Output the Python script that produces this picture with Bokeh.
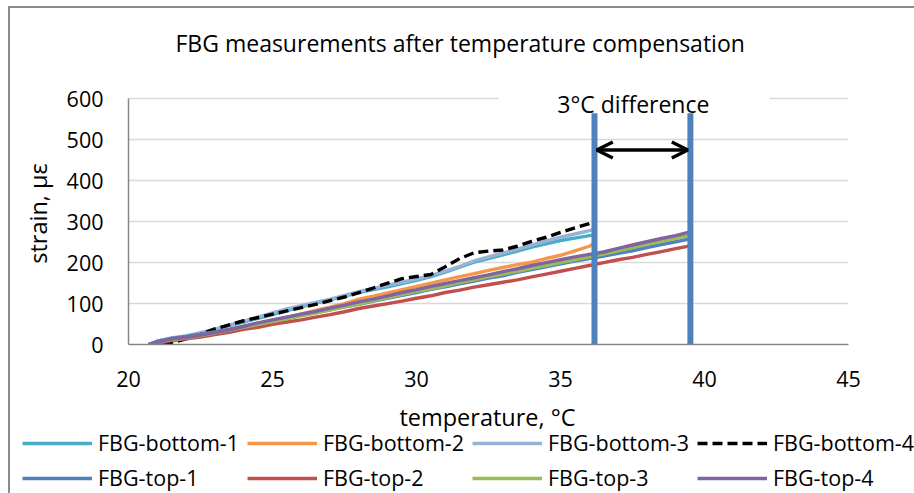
from bokeh.plotting import figure
from bokeh.models import (Range1d, Legend, LegendItem, Label, Arrow, OpenHead,
                          BoxAnnotation, FixedTicker, InlineStyleSheet)
from bokeh.embed import file_html
from bokeh.resources import INLINE

FONT = "Open Sans"

# ---------------- data ----------------
x_ticks = [20, 25, 30, 35, 40, 45]
y_ticks = [0, 100, 200, 300, 400, 500, 600]

temp_bottom = [20.7, 21.0, 21.5, 22.0, 22.5, 23.0, 23.5, 24.0, 24.5, 25.0, 25.5,
               26.0, 26.5, 27.0, 27.5, 28.0, 28.5, 29.0, 29.5, 30.0, 30.5, 31.0,
               31.5, 32.0, 32.5, 33.0, 33.5, 34.0, 34.5, 35.0, 35.5, 36.0, 36.2]
temp_top = [20.7, 21.0, 21.5, 22.0, 22.5, 23.0, 23.5, 24.0, 24.5, 25.0, 25.5,
            26.0, 26.5, 27.0, 27.5, 28.0, 28.5, 29.0, 29.5, 30.0, 30.5, 31.0,
            31.5, 32.0, 32.5, 33.0, 33.5, 34.0, 34.5, 35.0, 35.5, 36.0, 36.5,
            37.0, 37.5, 38.0, 38.5, 39.0, 39.5]

bottom_1 = [0, 8, 15, 20, 28, 37, 46, 55, 64, 73, 83, 92, 101, 109, 118, 127, 134,
            141, 149, 157, 166, 177, 189, 201, 210, 219, 228, 238, 246, 254, 260, 266, 268]
bottom_2 = [0, -5, 8, 15, 22, 30, 37, 45, 52, 60, 67, 75, 83, 91, 100, 111, 118,
            126, 134, 142, 150, 158, 166, 173, 181, 188, 195, 201, 210, 218, 229, 240, 248]
bottom_3 = [0, 8, 16, 21, 29, 37, 47, 57, 67, 77, 87, 95, 103, 111, 120, 129, 137,
            145, 152, 160, 169, 179, 191, 204, 214, 223, 233, 243, 253, 262, 270, 278, 282]
bottom_4 = [0, -5, 4, 14, 25, 38, 48, 58, 66, 74, 82, 90, 98, 107, 116, 127, 138,
            150, 161, 166, 171, 190, 210, 224, 228, 231, 240, 252, 262, 274, 285, 295, 300]

top_1 = [0, 8, 15, 20, 25, 31, 37, 44, 50, 57, 64, 71, 78, 85, 92, 98, 106, 113, 120,
         127, 135, 141, 148, 155, 162, 168, 176, 183, 190, 197, 204, 210, 216, 223,
         229, 237, 244, 251, 258]
top_2 = [0, 3, 10, 14, 18, 24, 30, 37, 42, 49, 55, 60, 67, 73, 80, 88, 94, 100, 106,
         113, 119, 127, 133, 140, 146, 152, 158, 165, 172, 179, 186, 193, 200, 207,
         213, 220, 227, 234, 241]
top_3 = [0, 5, 12, 16, 22, 28, 35, 42, 49, 56, 63, 70, 77, 84, 92, 99, 107, 114, 122,
         129, 136, 143, 151, 158, 165, 172, 179, 186, 193, 200, 207, 214, 221, 229,
         237, 244, 252, 259, 267]
top_4 = [0, 5, 14, 17, 23, 29, 36, 44, 53, 60, 67, 74, 81, 89, 96, 104, 111, 119, 127,
         134, 142, 149, 156, 163, 170, 178, 185, 193, 200, 207, 214, 220, 226, 235,
         243, 251, 259, 266, 275]

series_names = ["FBG-bottom-1", "FBG-bottom-2", "FBG-bottom-3", "FBG-bottom-4",
                "FBG-top-1", "FBG-top-2", "FBG-top-3", "FBG-top-4"]
series_colors = ["#4BACC6", "#F79646", "#95B3D7", "#000000",
                 "#4F81BD", "#C0504D", "#9BBB59", "#8064A2"]
series_dash = ["solid", "solid", "solid", "10 5", "solid", "solid", "solid", "solid"]

marker_temps = [36.18, 39.51]   # the two vertical "3°C difference" markers
marker_top = 565
arrow_span = [36.26, 39.42]
arrow_level = 475

all_x = [temp_bottom] * 4 + [temp_top] * 4
all_y = [bottom_1, bottom_2, bottom_3, bottom_4, top_1, top_2, top_3, top_4]

# ---------------- main chart ----------------
p = figure(width=914, height=400, output_backend="svg", toolbar_location=None,
           x_range=Range1d(20, 45), y_range=Range1d(0, 640),
           min_border_left=128, min_border_right=66, min_border_top=82,
           min_border_bottom=56)
p.outline_line_color = None
p.background_fill_color = "white"
p.border_fill_color = "white"

p.title.text = "FBG measurements after temperature compensation"
p.title.text_font = FONT
p.title.text_font_size = "23px"
p.title.text_font_style = "normal"
p.title.text_color = "black"
p.title.align = "left"
p.title.offset = 47
p.title.vertical_align = "bottom"
p.title.standoff = 48

p.xgrid.grid_line_color = None
p.ygrid.grid_line_color = "#D9D9D9"
p.ygrid.grid_line_width = 1.5

p.xaxis.ticker = FixedTicker(ticks=x_ticks)
p.yaxis.ticker = FixedTicker(ticks=y_ticks)
p.yaxis.bounds = (0, 600)
for ax in (p.xaxis, p.yaxis):
    ax.axis_line_color = "#868686"
    ax.axis_line_width = 1.5
    ax.major_tick_out = 0
    ax.major_tick_in = 0
    ax.minor_tick_line_color = None
    ax.major_label_text_font = FONT
    ax.major_label_text_font_size = "21.5px"
    ax.major_label_text_color = "black"
    ax.axis_label_text_font = FONT
    ax.axis_label_text_font_size = "23.5px"
    ax.axis_label_text_font_style = "normal"
    ax.axis_label_text_color = "black"
p.yaxis.axis_label = "strain, με"
p.xaxis.major_label_standoff = 26
p.yaxis.major_label_standoff = 25
p.yaxis.axis_label_standoff = 10

renderers = []
for xs, ys, col, dash in zip(all_x, all_y, series_colors, series_dash):
    renderers.append(p.line(xs, ys, line_color=col, line_width=3.4, line_dash=dash))

# vertical marker lines
p.segment(x0=marker_temps, x1=marker_temps, y0=[-5, -5], y1=[marker_top, marker_top],
          line_color="#4F81BD", line_width=6)

# double arrow
p.add_layout(Arrow(x_start=arrow_span[0], x_end=arrow_span[1],
                   y_start=arrow_level, y_end=arrow_level,
                   line_color="black", line_width=3.5,
                   start=OpenHead(size=16, line_width=3.5, line_color="black"),
                   end=OpenHead(size=16, line_width=3.5, line_color="black")))

# white box behind the annotation text (hides gridline)
p.add_layout(BoxAnnotation(left=32.85, right=42.26, bottom=575, top=640,
                           fill_color="white", fill_alpha=1.0, line_color=None))
p.add_layout(Label(x=37.53, y=588, text="3°C difference", text_align="center",
                   text_baseline="middle", text_font=FONT, text_font_size="23px",
                   text_color="black"))

# outer chart border (left and top edges)
p.stylesheets = [InlineStyleSheet(css=(
    ":host::after { content: ''; position: absolute; left: 8px; top: 6px; "
    "width: 906px; height: 487px; box-sizing: border-box; "
    "border-left: 2px solid #8c8c8c; border-top: 2px solid #8c8c8c; "
    "pointer-events: none; z-index: 10; }"))]

# ---------------- bottom strip: x-axis title + legend ----------------
q = figure(width=914, height=93, output_backend="svg", toolbar_location=None,
           x_range=Range1d(0, 914), y_range=Range1d(493, 400),
           x_axis_location=None, y_axis_location=None,
           min_border=0, min_border_left=0, min_border_right=0,
           min_border_top=0, min_border_bottom=0)
q.outline_line_color = None
q.grid.grid_line_color = None
q.background_fill_color = "white"
q.border_fill_color = "white"

q.add_layout(Label(x=487, y=416.5, text="temperature, °C", text_align="center",
                   text_baseline="middle", text_font=FONT, text_font_size="23.5px",
                   text_color="black"))

# legend entries (same series, drawn outside this strip's visible range)
q_renderers = []
for xs, ys, col, dash in zip(all_x, all_y, series_colors, series_dash):
    q_renderers.append(q.line(xs, ys, line_color=col, line_width=3.4, line_dash=dash))

legend = Legend(items=[LegendItem(label=n, renderers=[r])
                       for n, r in zip(series_names, q_renderers)],
                orientation="horizontal", ncols=4,
                location=(22, 1),
                padding=0, margin=0, spacing=6,
                border_line_color=None, background_fill_alpha=0,
                glyph_width=70, glyph_height=20, label_standoff=6,
                label_width=143, label_height=20,
                label_text_font=FONT, label_text_font_size="21.5px",
                label_text_color="black")
q.add_layout(legend, "center")

open("out.html", "w").write(file_html([p, q], INLINE))
